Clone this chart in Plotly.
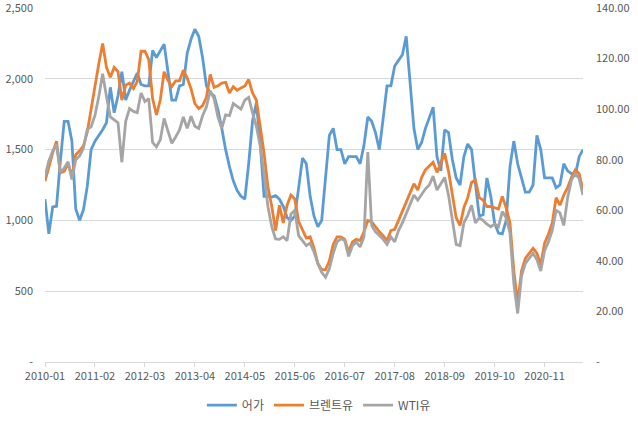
import pandas as pd
import plotly.graph_objects as go

months = [d.strftime("%Y-%m") for d in pd.date_range("2010-01-01", "2021-09-01", freq="MS")]

fish_price = [
    1150, 905, 1095, 1100, 1420, 1700, 1700, 1560, 1080, 1000, 1075, 1240,
    1500, 1560, 1600, 1640, 1690, 1940, 1760, 1880, 2050, 1850, 1920, 1985,
    2040, 1960, 1950, 1950, 2200, 2150, 2200, 2245, 2050, 1850, 1850, 1950,
    1960, 2180, 2280, 2350, 2300, 2150, 1950, 1900, 1880, 1780, 1650, 1500,
    1380, 1280, 1210, 1170, 1150, 1400, 1700, 1830, 1550, 1170, 1170, 1165,
    1175, 1150, 1100, 1020, 1000, 1030, 1230, 1440, 1400, 1170, 1030, 955,
    1000, 1280, 1600, 1650, 1500, 1500, 1400, 1450, 1450, 1450, 1400, 1530,
    1730, 1700, 1620, 1500, 1720, 1950, 1950, 2090, 2130, 2170, 2300, 1950,
    1650, 1500, 1550, 1650, 1730, 1800, 1450, 1350, 1640, 1620, 1430, 1300,
    1250, 1450, 1540, 1500, 1260, 1030, 1040, 1300, 1170, 980, 910, 905,
    1000, 1380, 1560, 1400, 1300, 1200, 1200, 1250, 1600, 1500, 1300, 1300,
    1300, 1230, 1250, 1400, 1350, 1330, 1320, 1450, 1500,
]

brent = [
    71.5, 77.4, 82.7, 87.3, 74.8, 75.4, 78.7, 73.4, 82.0, 83.5, 85.5, 91.0,
    100.0, 110.0, 118.0, 126.0, 116.5, 112.6, 116.5, 114.8, 103.6, 109.5, 110.3, 108.1,
    110.9, 122.9, 122.9, 119.6, 104.2, 97.7, 103.6, 114.8, 111.4, 108.9, 111.2, 111.2,
    115.4, 112.3, 108.1, 102.2, 100.2, 101.4, 104.7, 113.7, 108.6, 109.2, 110.3, 110.6,
    106.4, 108.9, 107.5, 108.4, 109.2, 111.7, 106.4, 103.6, 93.0, 82.6, 69.4, 61.6,
    52.0, 62.0, 55.0, 62.0, 66.0, 64.5, 55.5, 52.0, 49.0, 49.5, 45.0, 39.0,
    36.5, 36.5, 40.0, 46.5, 49.5, 49.5, 48.5, 43.5, 47.5, 48.5, 48.0, 51.5,
    56.0, 55.5, 53.5, 51.5, 50.0, 48.0, 52.0, 52.5, 56.0, 59.5, 63.5, 67.0,
    70.5, 68.0, 73.0, 76.0, 77.5, 79.0, 75.0, 78.5, 82.5, 75.5, 66.5, 57.0,
    54.0, 61.0, 65.0, 71.0, 72.0, 65.0, 64.0, 61.5, 61.5, 61.0, 60.5, 65.5,
    61.0, 55.0, 36.0, 23.2, 36.0, 41.0, 43.0, 45.0, 43.0, 38.5, 47.0, 50.5,
    55.0, 65.0, 62.0, 66.0, 69.0, 73.0, 76.0, 74.5, 68.0,
]

wti = [
    73.4, 79.5, 83.4, 86.0, 74.8, 76.7, 79.2, 72.2, 80.0, 81.5, 84.5, 92.0,
    93.0, 97.5, 105.0, 114.0, 105.0, 96.9, 95.8, 94.6, 79.0, 95.2, 100.2, 99.1,
    98.6, 106.4, 103.0, 104.2, 86.8, 85.1, 87.9, 96.3, 91.3, 86.5, 89.0, 91.8,
    96.9, 92.4, 97.2, 93.2, 92.4, 97.4, 100.8, 107.2, 104.2, 96.9, 92.4, 97.7,
    97.4, 102.2, 101.1, 100.0, 103.6, 104.7, 98.6, 93.2, 85.4, 74.8, 61.6, 53.5,
    48.7, 48.5, 49.5, 48.0, 58.5, 60.0, 50.0, 48.0, 46.0, 47.0, 43.5, 39.0,
    35.5, 33.5, 37.0, 43.0, 47.5, 48.8, 48.0, 41.8, 46.0, 47.5, 45.5, 49.5,
    83.0, 54.0, 51.5, 50.0, 48.5, 46.5, 49.5, 47.5, 52.0, 55.0, 58.5, 62.5,
    66.0, 64.0, 66.5, 68.5, 70.0, 73.5, 68.0, 70.5, 73.0, 66.0, 56.5, 46.5,
    46.0, 55.0, 58.0, 62.0, 55.0, 57.0, 56.0, 54.5, 53.5, 54.5, 53.5, 59.5,
    57.0, 51.0, 31.0, 19.2, 34.0, 39.0, 41.0, 43.0, 40.5, 36.0, 44.0, 47.5,
    52.0, 60.0, 59.0, 54.0, 65.0, 72.0, 74.5, 72.5, 66.0,
]

series_names = ["어가", "브렌트유", "WTI유"]
colors = ["#5B9BD5", "#ED7D31", "#A5A5A5"]

left_ticks = [0, 500, 1000, 1500, 2000, 2500]
left_text = ["-", "500", "1,000", "1,500", "2,000", "2,500"]
right_ticks = [0, 20, 40, 60, 80, 100, 120, 140]
right_text = ["-", "20.00", "40.00", "60.00", "80.00", "100.00", "120.00", "140.00"]
x_ticks = months[::13]

font_family = "Noto Sans CJK KR"
tick_color = "#595959"

fig = go.Figure()
fig.add_trace(go.Scatter(x=months, y=fish_price, name=series_names[0], mode="lines",
                         line=dict(color=colors[0], width=2.8), yaxis="y"))
fig.add_trace(go.Scatter(x=months, y=brent, name=series_names[1], mode="lines",
                         line=dict(color=colors[1], width=2.8), yaxis="y2"))
fig.add_trace(go.Scatter(x=months, y=wti, name=series_names[2], mode="lines",
                         line=dict(color=colors[2], width=2.8), yaxis="y2"))

fig.update_layout(
    width=638, height=434,
    margin=dict(l=45, r=55, t=8, b=72, autoexpand=False),
    paper_bgcolor="white", plot_bgcolor="white",
    font=dict(family=font_family, size=11, color=tick_color),
    showlegend=True,
    legend=dict(orientation="h", x=0.509, xanchor="center", y=-0.122, yanchor="middle",
                font=dict(size=12, color=tick_color), itemwidth=30, traceorder="normal"),
    xaxis=dict(type="category", range=[0, len(months) - 1], tickmode="array",
               tickvals=x_ticks, ticktext=x_ticks, showgrid=False,
               showline=True, linecolor="#D9D9D9", linewidth=1,
               ticks="outside", ticklen=4, tickcolor="#D9D9D9",
               tickfont=dict(size=11, color=tick_color), tickangle=0,
               automargin=False),
    yaxis=dict(range=[0, 2500], tickmode="array", tickvals=left_ticks, ticktext=left_text,
               showgrid=True, gridcolor="#D9D9D9", gridwidth=1, zeroline=False,
               showline=False, ticks="", ticklabelstandoff=11, ticklabeloverflow="allow",
               tickfont=dict(size=11, color=tick_color), automargin=False),
    yaxis2=dict(range=[0, 140], tickmode="array", tickvals=right_ticks, ticktext=right_text,
                overlaying="y", side="right", showgrid=False, zeroline=False,
                showline=False, ticks="", ticklabelstandoff=12, ticklabeloverflow="allow",
                tickfont=dict(size=11, color=tick_color), automargin=False),
)

fig.write_html("out.html", config={"displayModeBar": False},
               post_script="document.body.style.margin='0px';")
